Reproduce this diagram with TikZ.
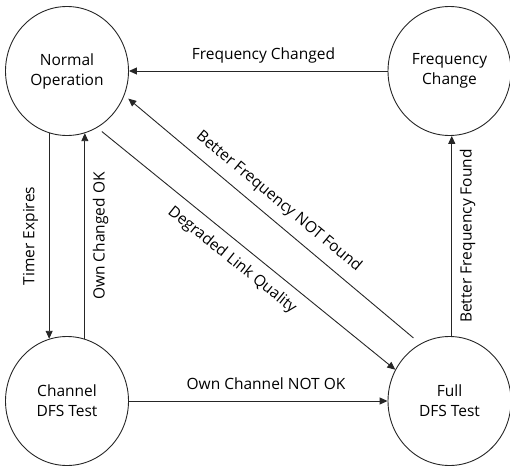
\documentclass[tikz,border=0pt]{standalone}
\usepackage{fontspec}
\setmainfont{Open Sans}
\usetikzlibrary{shapes.geometric,arrows.meta}
\begin{document}
\begin{tikzpicture}[x=1pt,y=1pt,
  state/.style={ellipse, draw=black!85, line width=0.9pt, minimum width=123pt, minimum height=129pt, inner sep=0pt, align=center, font=\fontsize{15.5}{20}\selectfont},
  conn/.style={draw=black!85, line width=0.9pt, -{Triangle[length=8pt,width=7pt]}},
  lbl/.style={font=\fontsize{15.5}{18}\selectfont, inner sep=0pt}]
\useasboundingbox (0,0) rectangle (510,467);
\node[state] (nor) at (67,396) {Normal\\Operation};
\node[state] (fc) at (449.5,396) {Frequency\\Change};
\node[state] (ch) at (67,66) {Channel\\DFS Test};
\node[state] (fd) at (449.5,66) {Full\\DFS Test};
\draw[conn] (fc.west) -- (nor.east) node[lbl, pos=0.48, anchor=base, yshift=11.5pt] {Frequency Changed};
\draw[conn] (ch.east) -- (fd.west) node[lbl, pos=0.53, anchor=base, yshift=12pt] {Own Channel NOT OK};
\draw[conn] (nor.254) -- (ch.106) node[lbl, midway, rotate=90, yshift=18.7pt] {Timer Expires};
\draw[conn] (ch.74) -- (nor.286) node[lbl, midway, rotate=90, yshift=-15.7pt] {Own Changed OK};
\draw[conn] (fd.88) -- (fc.272) node[lbl, midway, rotate=90, yshift=-15.7pt] {Better Frequency Found};
\draw[conn, shorten <=6pt] (nor.-62) -- (fd.150) node[lbl, pos=0.49, rotate=-38.8, yshift=-17.9pt] {Degraded Link Quality};
\draw[conn, shorten <=9pt, shorten >=5pt] (fd.117.6) -- (nor.-23.5) node[lbl, pos=0.517, rotate=-39.8, yshift=17.7pt] {Better Frequency NOT Found};
\end{tikzpicture}
\end{document}
